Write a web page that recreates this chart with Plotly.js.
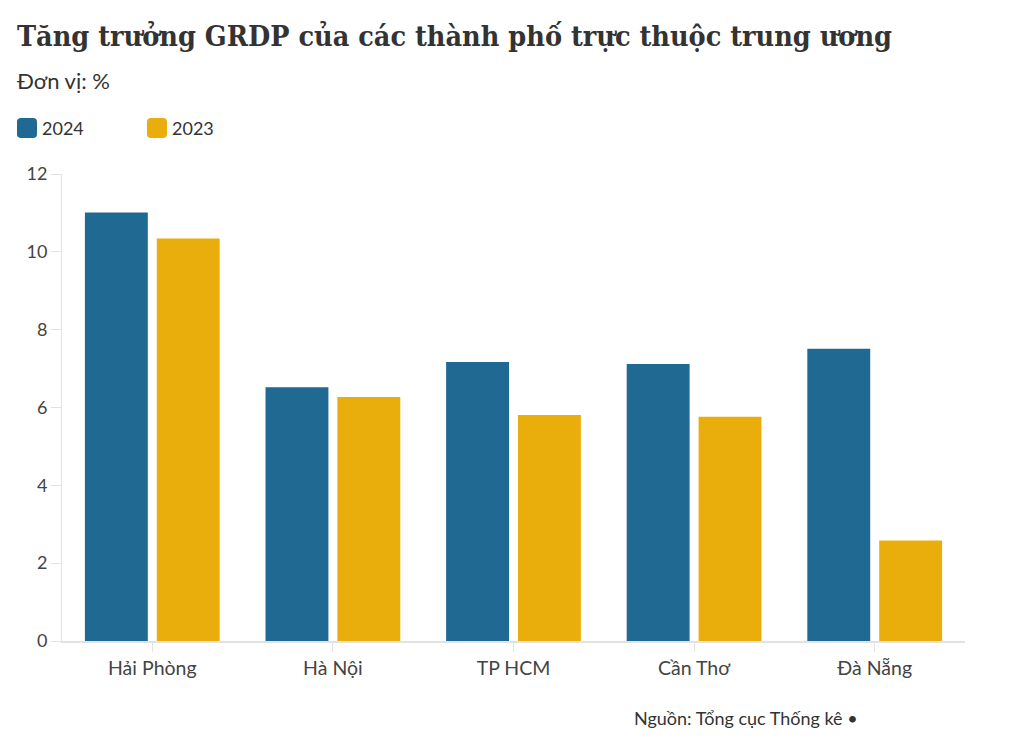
<!DOCTYPE html>
<html>
<head>
<meta charset="utf-8">
<script src="https://cdn.plot.ly/plotly-3.0.1.min.js"></script>
<style>html,body{margin:0;padding:0;background:#fff;}#chart{width:1020px;height:753px;}</style>
</head>
<body>
<div id="chart"></div>
<script>
const cities = ["Hải Phòng", "Hà Nội", "TP HCM", "Cần Thơ", "Đà Nẵng"];
const growth2024 = [11.01, 6.52, 7.17, 7.12, 7.51];
const growth2023 = [10.34, 6.27, 5.81, 5.76, 2.58];
const seriesNames = ["2024", "2023"];
const seriesColors = ["#1f6993", "#e9ae0b"];
const yTicks = [0, 2, 4, 6, 8, 10, 12];

const W = 1020, H = 753;
const m = {l: 62, r: 55, t: 174, b: 112};
const pw = W - m.l - m.r, ph = H - m.t - m.b;
const px = x => (x - m.l) / pw;
const py = y => (H - m.b - y) / ph;

const sans = "Lato, 'Noto Sans', sans-serif";

const traces = seriesNames.map((nm, i) => ({
  type: "bar", name: nm, x: cities, y: i === 0 ? growth2024 : growth2023,
  marker: {color: seriesColors[i]}, hoverinfo: "x+y"
}));

const swatch = "M-10,-6 Q-10,-10 -6,-10 L6,-10 Q10,-10 10,-6 L10,6 Q10,10 6,10 L-6,10 Q-10,10 -10,6 Z";
const legendX = [27, 157];
const shapes = seriesNames.map((nm, i) => ({
  type: "path", xref: "paper", yref: "paper", xsizemode: "pixel", ysizemode: "pixel",
  xanchor: px(legendX[i]), yanchor: py(128), path: swatch,
  fillcolor: seriesColors[i], line: {width: 0}
}));
const legendAnn = seriesNames.map((nm, i) => ({
  xref: "paper", yref: "paper", x: px(legendX[i] + 13), y: py(128), xanchor: "left", yanchor: "middle",
  showarrow: false, text: nm, font: {family: sans, size: 18, color: "#333"}
}));

const layout = {
  width: W, height: H,
  margin: m,
  paper_bgcolor: "#fff", plot_bgcolor: "#fff",
  barmode: "group", bargap: 0.204, bargroupgap: 0.125,
  showlegend: false,
  xaxis: {showline: true, linecolor: "#e2e2e2", linewidth: 1.5, ticks: "outside", ticklen: 9, tickcolor: "#e2e2e2",
          tickfont: {family: sans, size: 19.5, color: "#444"}, fixedrange: true},
  yaxis: {range: [0, 12], tickvals: yTicks, showgrid: false, zeroline: false, showline: true, linecolor: "#e2e2e2",
          ticks: "outside", ticklen: 10, tickcolor: "#e2e2e2", tickfont: {family: sans, size: 18, color: "#444"}, fixedrange: true},
  shapes: shapes,
  annotations: [
    {xref: "paper", yref: "paper", x: px(15), y: py(36), xanchor: "left", yanchor: "middle", showarrow: false,
     text: "<b>Tăng trưởng GRDP của các thành phố trực thuộc trung ương</b>",
     font: {family: "'DejaVu Serif Condensed', 'DejaVu Serif', serif", size: 28.5, color: "#333"}},
    {xref: "paper", yref: "paper", x: px(15), y: py(80), xanchor: "left", yanchor: "middle", showarrow: false,
     text: "Đơn vị: %", font: {family: sans, size: 22, color: "#333"}},
    {xref: "paper", yref: "paper", x: px(632), y: py(718), xanchor: "left", yanchor: "middle", showarrow: false,
     text: "Nguồn: Tổng cục Thống kê •", font: {family: sans, size: 18, color: "#333"}}
  ].concat(legendAnn)
};

Plotly.newPlot("chart", traces, layout, {displayModeBar: false, staticPlot: true});
</script>
</body>
</html>
